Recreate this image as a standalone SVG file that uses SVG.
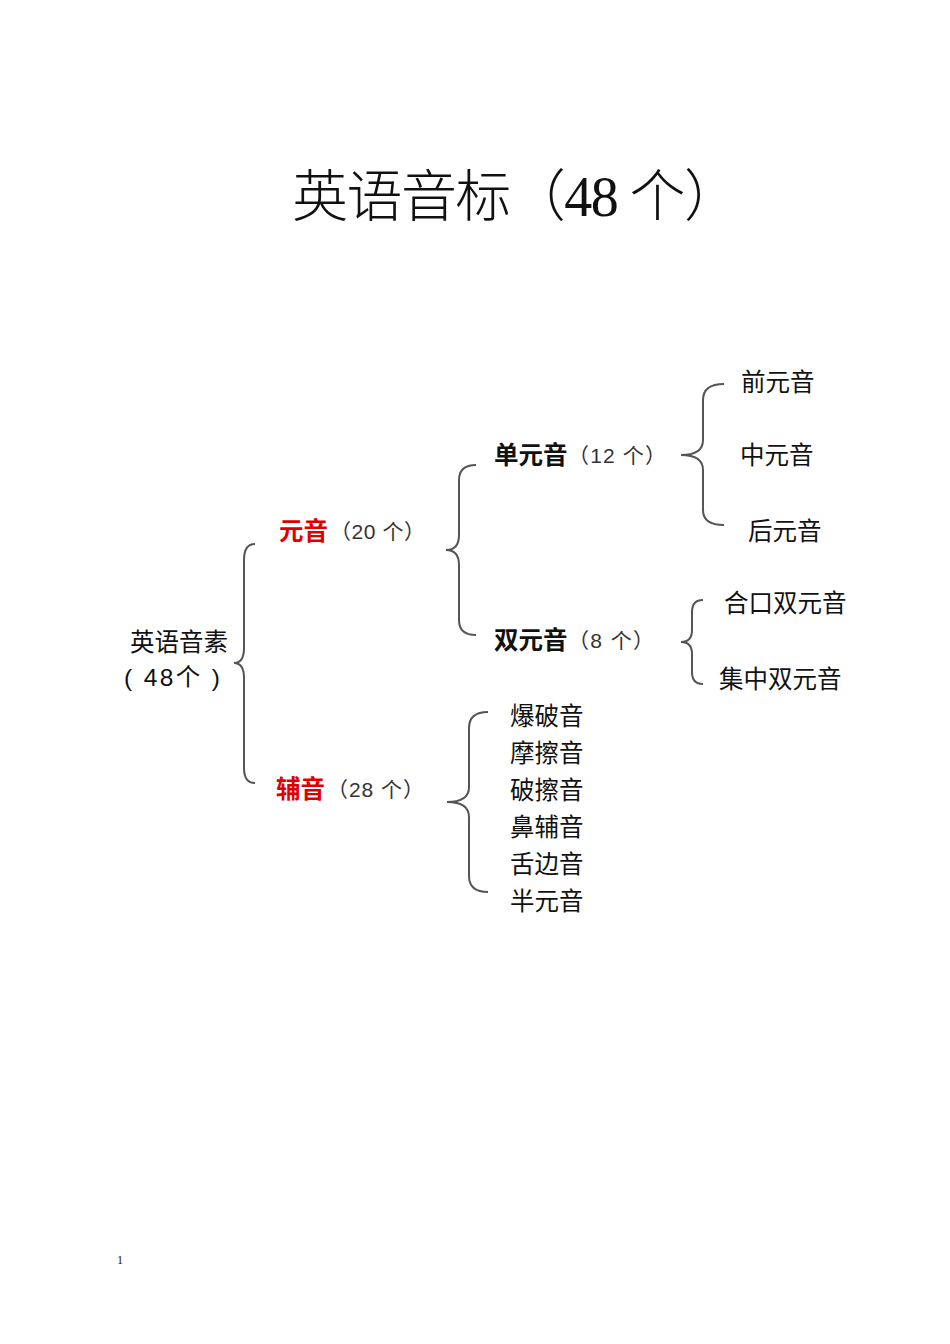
<svg xmlns="http://www.w3.org/2000/svg" width="950" height="1344" viewBox="0 0 950 1344">
<style>
text{font-family:"Liberation Sans","Noto Sans CJK SC",sans-serif;font-size:24.5px;fill:#111}
.t{font-family:"Liberation Serif","Noto Sans CJK SC",serif;font-size:56px;font-weight:300}
.b{font-weight:bold}
.r{fill:#e00000;font-weight:bold}
.g{fill:#333;font-size:21px}
.br{fill:none;stroke:#555;stroke-width:2}
</style>
<rect width="950" height="1344" fill="#fff"/>
<text class="t" x="292" y="216" textLength="448">英语音标（48 个）</text>
<g id="connectors">
<path class="br" d="M255,544 Q244,544 244,560 V648 Q244,663 234,663 Q244,663 244,678 V768 Q244,783 255,783"/>
<path class="br" d="M476,465 Q459,465 459,480 V535 Q459,550 446,550 Q459,550 459,565 V620 Q459,635 476,635"/>
<path class="br" d="M724,384 Q703,384 703,400 V440 Q703,455 681,455 Q703,455 703,470 V510 Q703,525 724,525"/>
<path class="br" d="M703,600 Q692,600 692,612 V630 Q692,642 681,642 Q692,642 692,654 V672 Q692,684 703,684"/>
<path class="br" d="M488,712 Q469,712 469,728 V787 Q469,802 447,802 Q469,802 469,817 V876 Q469,892 488,892"/>
</g>
<g id="root"><text x="130" y="651">英语音素</text><text x="124" y="686" textLength="96">( 48个 )</text></g>
<g id="vowel"><text x="279" y="540" class="r">元音</text><text x="330" y="539" class="g" textLength="95">（20 个）</text></g>
<g id="consonant"><text x="276" y="798" class="r">辅音</text><text x="327" y="797" class="g" textLength="97">（28 个）</text></g>
<g id="mono"><text x="494" y="464" class="b">单元音</text><text x="568" y="463" class="g" textLength="98">（12 个）</text></g>
<g id="diph"><text x="494" y="649" class="b">双元音</text><text x="568" y="648" class="g" textLength="86">（8 个）</text></g>
<g id="front"><text x="741" y="391">前元音</text></g>
<g id="central"><text x="740" y="464">中元音</text></g>
<g id="back"><text x="748" y="540">后元音</text></g>
<g id="closing"><text x="724" y="612">合口双元音</text></g>
<g id="centering"><text x="719" y="688">集中双元音</text></g>
<g id="c1"><text x="510" y="725">爆破音</text></g>
<g id="c2"><text x="510" y="762">摩擦音</text></g>
<g id="c3"><text x="510" y="799">破擦音</text></g>
<g id="c4"><text x="510" y="836">鼻辅音</text></g>
<g id="c5"><text x="510" y="873">舌边音</text></g>
<g id="c6"><text x="510" y="910">半元音</text></g>
<text x="117" y="1264" style="font-family:'Liberation Serif',serif;font-size:12px">1</text>
</svg>
